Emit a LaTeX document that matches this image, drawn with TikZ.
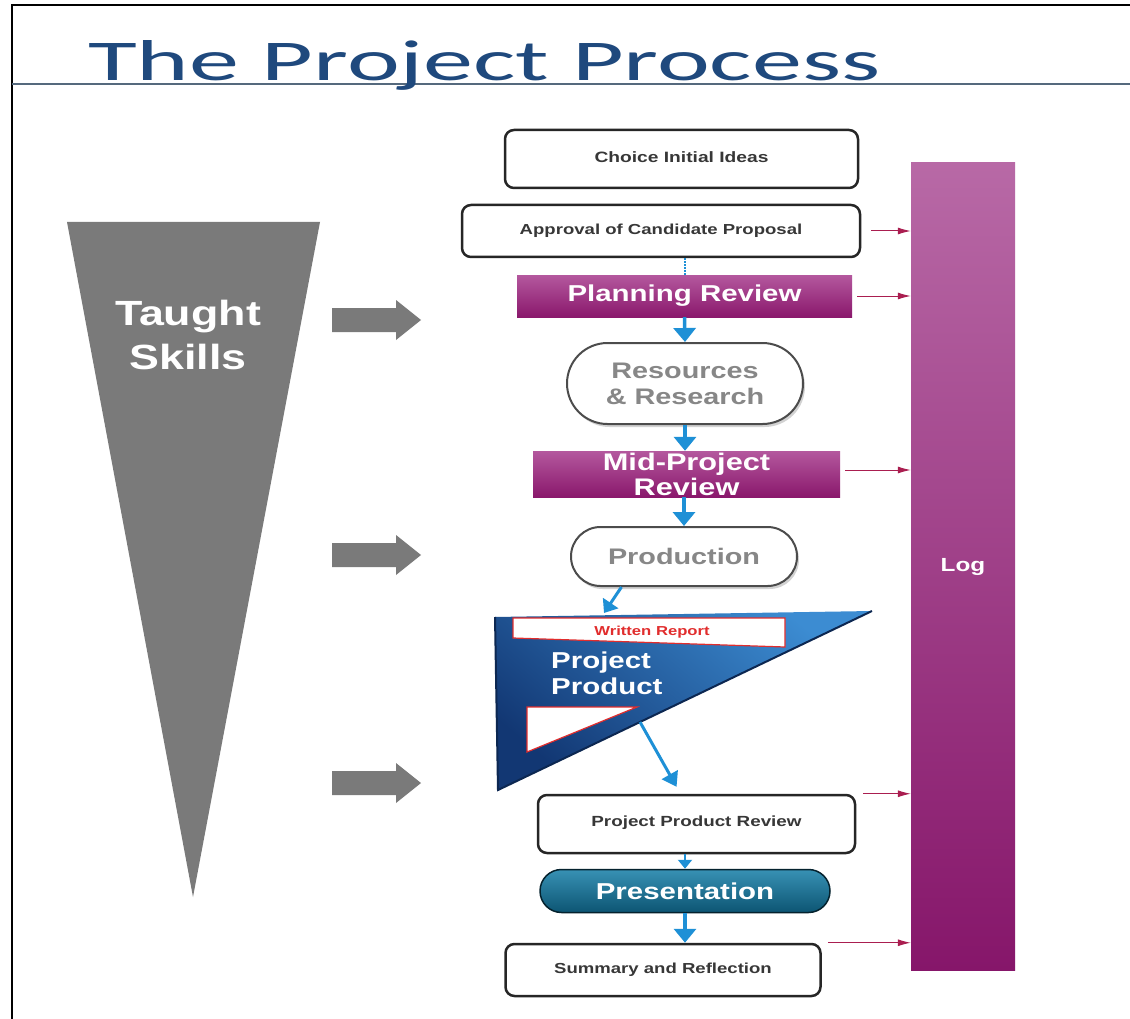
\documentclass[tikz,border=0pt]{standalone}
\usepackage{fontspec}
\setmainfont{Liberation Sans}
\newfontfamily\df[FakeStretch=1.28]{Liberation Sans}
\newfontfamily\tf{Carlito}
\usetikzlibrary{shapes.misc,shadows,arrows.meta,calc}

\definecolor{titleblue}{RGB}{31,73,125}
\definecolor{rulecol}{RGB}{85,105,125}
\definecolor{gtri}{RGB}{122,122,122}
\definecolor{magtop}{RGB}{180,88,158}
\definecolor{magbot}{RGB}{138,24,108}
\definecolor{logtop}{RGB}{184,105,166}
\definecolor{logbot}{RGB}{134,22,106}
\definecolor{flow}{RGB}{30,144,214}
\definecolor{logarrow}{RGB}{170,30,80}
\definecolor{txtdark}{RGB}{55,55,55}
\definecolor{txtgray}{RGB}{135,135,135}
\definecolor{blight}{RGB}{60,140,210}
\definecolor{bdark}{RGB}{18,55,115}
\definecolor{rep}{RGB}{225,45,45}
\definecolor{prestop}{RGB}{55,145,180}
\definecolor{presbot}{RGB}{12,85,115}

\tikzset{
  whitebox/.style={rectangle, draw=black!85, line width=2.5pt, rounded corners=9pt,
    fill=white, inner sep=0pt, text=txtdark, font=\df\bfseries\fontsize{15}{18}\selectfont},
  magbox/.style={rectangle, top color=magtop, bottom color=magbot, draw=none,
    inner sep=0pt, text=white, align=center, font=\df\bfseries\fontsize{23}{25}\selectfont},
  stadium/.style={rounded rectangle, draw=black!70, line width=2pt, fill=white,
    drop shadow={opacity=0.35,shadow xshift=2pt,shadow yshift=-3pt},
    inner sep=0pt, text=txtgray, align=center, font=\df\bfseries\fontsize{22.5}{26}\selectfont},
  presbox/.style={rounded rectangle, top color=prestop, bottom color=presbot,
    draw=black!60!presbot, line width=1.5pt, inner sep=0pt, text=white,
    font=\df\bfseries\fontsize{23}{25}\selectfont},
  flowarrow/.style={draw=flow, line width=3.5pt, -{Triangle[width=22pt,length=14pt]}},
  logarr/.style={draw=logarrow, line width=1pt, -{Latex[length=13pt,width=7pt]}},
  grayarrow/.style={fill=gtri, draw=none}
}

\begin{document}
\begin{tikzpicture}[x=1pt,y=-1pt]
\useasboundingbox (0,0) rectangle (1130,1019);
\fill[white] (0,0) rectangle (1130,1019);

% frame and title
\draw[black, line width=2pt] (12,1019) -- (12,5) -- (1130,5);
\draw[rulecol, line width=2pt] (12,84) -- (1130,84);
\node[anchor=base west, inner sep=0pt, text=titleblue] (title) at (88,81)
  {\resizebox{792pt}{40pt}{\tf The Project Process}};

% taught skills triangle
\fill[gtri] (67,222) -- (320,222) -- (193,897) -- cycle;
\node[text=white, align=center, font=\df\bfseries\fontsize{35}{44}\selectfont] (taught) at (188,335) {Taught\\Skills};

% gray block arrows
\foreach \yy/\nm in {320/g1, 555/g2, 783/g3}{
  \fill[grayarrow] (332,\yy-12) -- (396,\yy-12) -- (396,\yy-20) -- (421,\yy) -- (396,\yy+20) -- (396,\yy+12) -- (332,\yy+12) -- cycle;
}

% log bar
\node[rectangle, top color=logtop, bottom color=logbot, minimum width=104pt, minimum height=807pt,
  inner sep=0pt, text=white, font=\df\bfseries\fontsize{19}{22}\selectfont] (log) at (963,566.5) {Log};

% process boxes
\node[whitebox, minimum width=353pt, minimum height=58pt] (choice) at (681.5,159) {\raisebox{4pt}{Choice Initial Ideas}};
\node[whitebox, minimum width=398pt, minimum height=52pt, font=\df\bfseries\fontsize{14.5}{17}\selectfont] (approval) at (661,231) {\raisebox{3pt}{Approval of Candidate Proposal}};
\node[magbox, minimum width=335pt, minimum height=42pt] (planning) at (684.5,296) {Planning Review};
\node[stadium, minimum width=236pt, minimum height=81pt] (resources) at (685,383.5) {Resources\\\& Research};
\node[magbox, minimum width=307pt, minimum height=46pt, font=\df\bfseries\fontsize{24}{25}\selectfont] (mid) at (686.5,474) {Mid-Project\\Review};
\node[stadium, minimum width=226pt, minimum height=59pt] (production) at (684,556.5) {Production};
\node[whitebox, minimum width=317pt, minimum height=58pt, font=\df\bfseries\fontsize{14.7}{17}\selectfont] (ppr) at (696.5,824) {\raisebox{6pt}{Project Product Review}};
\node[presbox, minimum width=290pt, minimum height=43pt] (presentation) at (685,891) {Presentation};
\node[whitebox, minimum width=315pt, minimum height=52pt, font=\df\bfseries\fontsize{14.5}{17}\selectfont] (summary) at (663,970) {\raisebox{2pt}{Summary and Reflection}};

% project product triangle
\shade[top color=blight, bottom color=bdark, shading angle=-40] (495,617) -- (872,611) -- (498,790) -- cycle;
\draw[bdark!70!black, line width=2pt] (872,611) -- (498,790) -- (495,617);
\filldraw[fill=white, draw=rep, line width=1.2pt] (513,618) -- (785,618) -- (785,647) -- (513,638) -- cycle;
\node[text=rep, font=\df\bfseries\fontsize{13}{14}\selectfont] (report) at (652,632) {Written Report};
\node[anchor=west, text=white, align=left, inner sep=0pt, font=\df\bfseries\fontsize{23}{26}\selectfont] (product) at (551,673) {Project\\Product};
\filldraw[fill=white, draw=rep, line width=1.2pt] (527,707) -- (637,707) -- (527,752) -- cycle;
\coordinate (tritop) at (604,613);
\coordinate (triout) at (640,722);

% flow arrows
\draw[draw=flow, line width=2pt, densely dotted] (approval.south -| planning.north) -- (planning.north);
\draw[flowarrow] (planning.south) -- (resources.north);
\draw[flowarrow] (resources.south) -- (resources.south |- mid.north);
\draw[flowarrow] (mid.south -| production.north) -- (production.north);
\draw[flowarrow, line width=3pt, -{Triangle[width=18pt,length=12pt]}] (production.206) -- (tritop);
\draw[flowarrow, line width=3pt, shorten >=8pt, -{Triangle[width=18pt,length=14pt]}] (triout) -- ($(ppr.north west)!0.45!(ppr.north east)$);
\draw[flowarrow, line width=2pt, -{Triangle[width=14pt,length=9pt]}] (presentation.north |- ppr.south) -- (presentation.north);
\draw[flowarrow] (presentation.south) -- (presentation.south |- summary.north);

% arrows into log
\draw[logarr, shorten <=10pt] (approval.east) -- (approval.east -| log.west);
\draw[logarr, shorten <=5pt] (planning.east) -- (planning.east -| log.west);
\draw[logarr, shorten <=5pt] ([yshift=4pt]mid.east) -- ([yshift=4pt]mid.east -| log.west);
\draw[logarr, shorten <=7pt] (ppr.north east) -- (ppr.north east -| log.west);
\draw[logarr, shorten <=6pt] (summary.north east) -- (summary.north east -| log.west);
\end{tikzpicture}
\end{document}
